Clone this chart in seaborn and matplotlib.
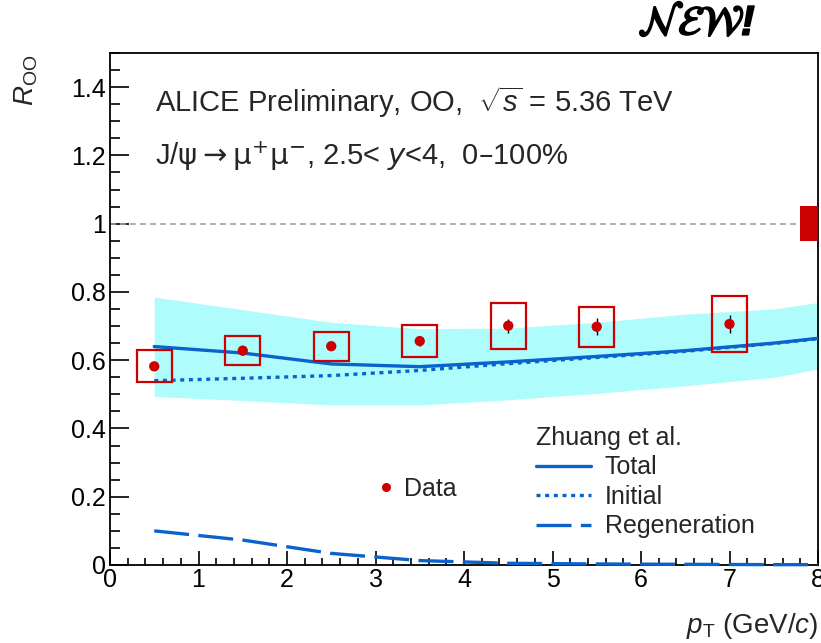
import numpy as np
import pandas as pd
import matplotlib
matplotlib.use("Agg")
import matplotlib.pyplot as plt
import matplotlib.patheffects as pe
from matplotlib.patches import Rectangle
from matplotlib.lines import Line2D
from matplotlib.ticker import MultipleLocator, FuncFormatter
import seaborn as sns

# ALICE J/psi R_OO vs pT
pt = [0.5, 1.5, 2.5, 3.5, 4.5, 5.5, 7.0]
r_oo = [0.582, 0.628, 0.641, 0.656, 0.701, 0.698, 0.706]
stat_err = [0.012, 0.012, 0.012, 0.014, 0.021, 0.025, 0.025]
syst_err = [0.047, 0.042, 0.042, 0.047, 0.068, 0.059, 0.081]
box_halfwidth = [0.2, 0.2, 0.2, 0.2, 0.2, 0.2, 0.2]
global_unc = 0.052

# Transport model (Zhuang et al.)
model_pt = [0.5, 1.5, 2.5, 3.5, 4.5, 5.5, 6.5, 7.5, 8.0]
model_total = [0.640, 0.621, 0.589, 0.581, 0.595, 0.611, 0.628, 0.650, 0.664]
model_initial = [0.540, 0.547, 0.555, 0.570, 0.590, 0.608, 0.626, 0.649, 0.663]
model_regen = [0.100, 0.073, 0.034, 0.013, 0.005, 0.003, 0.002, 0.001, 0.001]
band_low = [0.494, 0.482, 0.469, 0.469, 0.484, 0.503, 0.525, 0.550, 0.574]
band_high = [0.785, 0.748, 0.711, 0.692, 0.694, 0.711, 0.735, 0.750, 0.769]

x_ticks = [0, 1, 2, 3, 4, 5, 6, 7, 8]
y_ticks = [0, 0.2, 0.4, 0.6, 0.8, 1.0, 1.2, 1.4]

sns.set_theme(style="ticks")
plt.rcParams["font.family"] = ["Liberation Sans", "DejaVu Sans"]
plt.rcParams["mathtext.fontset"] = "custom"
plt.rcParams["mathtext.rm"] = "Liberation Sans"
plt.rcParams["mathtext.it"] = "Liberation Sans:italic"
plt.rcParams["mathtext.bf"] = "Liberation Sans:bold"

RED = "#cc0000"
BLUE = "#0a62cc"
CYAN = "#aefcfc"

W, H = 821, 643
fig = plt.figure(figsize=(W / 100, H / 100), dpi=100)
ax = fig.add_axes([110 / W, 1 - 565 / H, (818 - 110) / W, (565 - 53) / H])

df_model = pd.DataFrame({"pt": model_pt, "total": model_total,
                         "initial": model_initial, "regen": model_regen,
                         "lo": band_low, "hi": band_high})
df_data = pd.DataFrame({"pt": pt, "r": r_oo, "stat": stat_err,
                        "syst": syst_err, "hw": box_halfwidth})

# uncertainty band of the model
ax.fill_between(df_model["pt"], df_model["lo"], df_model["hi"],
                color=CYAN, lw=0, zorder=1)

sns.lineplot(data=df_model, x="pt", y="total", ax=ax, color=BLUE, lw=2.4,
             zorder=3)
sns.lineplot(data=df_model, x="pt", y="initial", ax=ax, color=BLUE, lw=2.4,
             linestyle=(0, (1.2, 1.4)), zorder=3)
sns.lineplot(data=df_model, x="pt", y="regen", ax=ax, color=BLUE, lw=2.4,
             linestyle=(0, (10.5, 2.8)), zorder=3, clip_on=False)

# unity reference
ax.axhline(1.0, color="#a0a0a0", lw=1.2, linestyle=(0, (3.5, 2.5)), zorder=2)

# systematic boxes
for x, y, s, hw in zip(pt, r_oo, syst_err, box_halfwidth):
    ax.add_patch(Rectangle((x - hw, y - s), 2 * hw, 2 * s, fill=False,
                           edgecolor=RED, lw=1.6, zorder=4))
# global normalisation uncertainty
ax.add_patch(Rectangle((7.8, 1 - global_unc), 0.4, 2 * global_unc,
                       facecolor=RED, edgecolor="none", zorder=4))

ax.errorbar(pt, r_oo, yerr=stat_err, fmt="none", ecolor="black", elinewidth=1,
            capsize=0, zorder=5)
sns.scatterplot(data=df_data, x="pt", y="r", ax=ax, color=RED, s=55,
                edgecolor="none", zorder=6)

ax.set_xlim(0, 8)
ax.set_ylim(0, 1.5)
ax.set_xticks(x_ticks)
ax.set_yticks(y_ticks)
ax.xaxis.set_minor_locator(MultipleLocator(0.2))
ax.yaxis.set_minor_locator(MultipleLocator(0.05))
ax.yaxis.set_major_formatter(FuncFormatter(lambda v, p: f"{v:g}"))
ax.tick_params(axis="both", which="both", direction="in", top=False,
               right=False, colors="black", labelsize=18, width=1.2)
ax.tick_params(axis="y", which="major", length=14, pad=3)
ax.tick_params(axis="y", which="minor", length=7)
ax.tick_params(axis="x", which="major", length=10, pad=2)
ax.tick_params(axis="x", which="minor", length=5)
for sp in ax.spines.values():
    sp.set_color("black")
    sp.set_linewidth(1.3)
ax.set_xlabel("")
ax.set_ylabel("")

# legends
model_handles = [
    Line2D([], [], color=BLUE, lw=2.4),
    Line2D([], [], color=BLUE, lw=2.4, linestyle=(0, (1.2, 1.4))),
    Line2D([], [], color=BLUE, lw=2.4, linestyle=(0, (10.5, 2.8))),
]
leg_model = ax.legend(model_handles, ["Total", "Initial", "Regeneration"],
                      title="Zhuang et al.", loc="upper left",
                      bbox_to_anchor=((536 - 110) / 708, (565 - 426) / 512),
                      frameon=False, fontsize=18, title_fontsize=18,
                      handlelength=2.2, handletextpad=0.55, labelspacing=0.22,
                      borderpad=0, borderaxespad=0)
leg_model._legend_box.align = "left"
ax.add_artist(leg_model)

data_handle = Line2D([], [], color=RED, marker="o", markersize=5.5, lw=0)
ax.legend([data_handle], ["Data"], loc="upper left",
          bbox_to_anchor=((376 - 110) / 708, (565 - 477) / 512),
          frameon=False, fontsize=18, handlelength=0.8, handletextpad=0.3,
          borderpad=0, borderaxespad=0)

# annotations
ax.text((155 - 110) / 708, (565 - 111.7) / 512,
        r"ALICE Preliminary, OO,  $\sqrt{s}$ = 5.36 TeV",
        transform=ax.transAxes, fontsize=21, va="baseline", ha="left")
ax.text((155 - 110) / 708, (565 - 165) / 512,
        r"J/$\mathrm{\psi}\rightarrow\mathrm{\mu}^{+}\mathrm{\mu}^{-}$, "
        r"2.5< $y$<4,  0–100%",
        transform=ax.transAxes, fontsize=21, va="baseline", ha="left",
        math_fontfamily="dejavusans")

fig.text(818 / W, 1 - 633 / H, r"$p_{\rm T}$ (GeV/$c$)", fontsize=20,
         ha="right", va="baseline")
fig.text(26 / W, 1 - 55 / H, r"$R_{\rm OO}$", fontsize=20, rotation=90,
         ha="center", va="top")

fig.text(697 / W, 1 - 24 / H, r"$\mathcal{NEW}$!", fontsize=30,
         math_fontfamily="stix", ha="center", va="center", color="black",
         fontweight="bold", fontstyle="italic",
         path_effects=[pe.withStroke(linewidth=1.2, foreground="black")])

fig.savefig("out.png", dpi=100)
